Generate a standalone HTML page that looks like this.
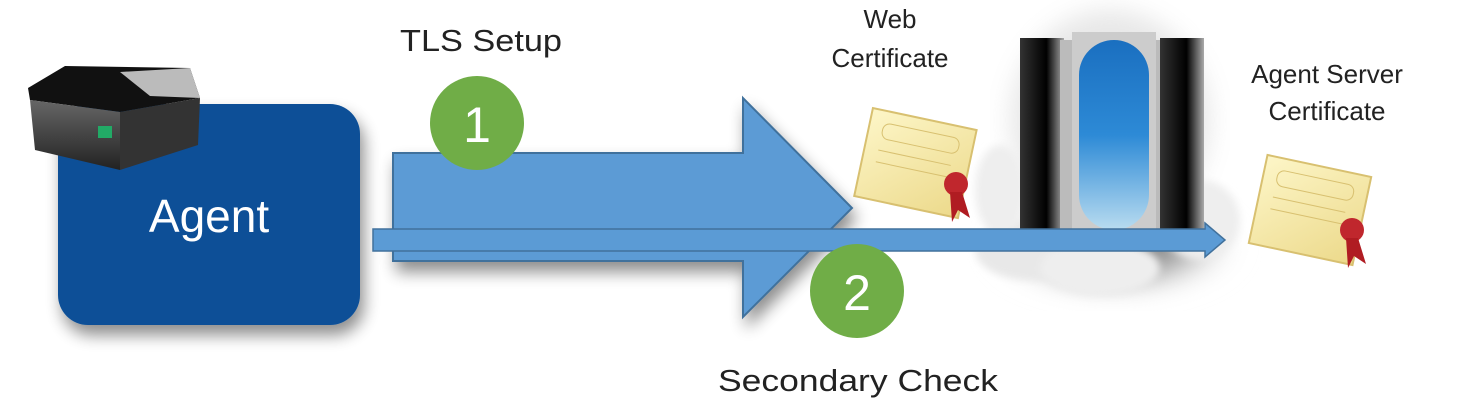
<!DOCTYPE html>
<html><head><meta charset="utf-8"><style>
html,body{margin:0;padding:0;background:#fff;}
svg{display:block;}
text{font-family:"Liberation Sans",sans-serif;}
</style></head><body>
<svg width="1467" height="414" viewBox="0 0 1467 414" xmlns="http://www.w3.org/2000/svg">
<defs>
<filter id="sh" x="-20%" y="-20%" width="150%" height="150%"><feGaussianBlur in="SourceAlpha" stdDeviation="8"/><feOffset dx="4" dy="10"/><feComponentTransfer><feFuncA type="linear" slope="0.45"/></feComponentTransfer><feMerge><feMergeNode/><feMergeNode in="SourceGraphic"/></feMerge></filter>
<filter id="bl"><feGaussianBlur stdDeviation="12"/></filter>
<filter id="bl2"><feGaussianBlur stdDeviation="4"/></filter>
<radialGradient id="cloud" cx="50%" cy="50%" r="50%"><stop offset="0" stop-color="#555"/><stop offset="0.55" stop-color="#aaa"/><stop offset="1" stop-color="#fff" stop-opacity="0"/></radialGradient>
<linearGradient id="globe" x1="0" y1="0" x2="0" y2="1"><stop offset="0" stop-color="#1a6fc0"/><stop offset="0.5" stop-color="#2d8ad6"/><stop offset="1" stop-color="#b9dcf0"/></linearGradient>
<linearGradient id="tower" x1="0" y1="0" x2="1" y2="0"><stop offset="0" stop-color="#333"/><stop offset="0.6" stop-color="#000"/><stop offset="1" stop-color="#aaa"/></linearGradient>
<linearGradient id="cert" x1="0" y1="0" x2="1" y2="1"><stop offset="0" stop-color="#fdf6c8"/><stop offset="1" stop-color="#ecd98a"/></linearGradient>
<linearGradient id="dev" x1="0" y1="0" x2="0" y2="1"><stop offset="0" stop-color="#666"/><stop offset="1" stop-color="#222"/></linearGradient>
</defs>

<!-- Agent box -->
<rect x="58" y="104" width="302" height="221" rx="30" fill="#0b5097" filter="url(#sh)"/>
<text x="209" y="232" font-size="46" fill="#fff" text-anchor="middle">Agent</text>
<!-- device -->
<g>
<polygon points="28,88 65,66 190,68 200,98 120,112 30,100" fill="#111"/>
<polygon points="120,72 190,68 200,98 150,96" fill="#bbb"/>
<polygon points="30,100 120,112 120,170 35,150" fill="url(#dev)"/>
<polygon points="120,112 200,98 198,145 120,170" fill="#333"/>
<rect x="98" y="126" width="14" height="12" fill="#2a6"/>
</g>

<!-- server cloud -->
<ellipse cx="1110" cy="120" rx="100" ry="110" fill="#ccc" opacity="0.45" filter="url(#bl)"/>
<ellipse cx="1115" cy="245" rx="130" ry="55" fill="url(#cloud)" filter="url(#bl)"/>
<ellipse cx="1030" cy="250" rx="55" ry="30" fill="#e8e8e8" filter="url(#bl2)"/>
<ellipse cx="1100" cy="268" rx="60" ry="28" fill="#eee" filter="url(#bl2)"/>
<ellipse cx="1200" cy="220" rx="40" ry="40" fill="#eee" filter="url(#bl2)"/>
<ellipse cx="1000" cy="190" rx="25" ry="45" fill="#eee" filter="url(#bl2)"/>
<rect x="1020" y="38" width="44" height="200" fill="url(#tower)"/>
<rect x="1060" y="40" width="12" height="196" fill="#bbb"/>
<rect x="1156" y="40" width="12" height="196" fill="#bbb"/>
<rect x="1160" y="38" width="44" height="200" fill="url(#tower)"/>
<rect x="1072" y="32" width="84" height="206" fill="#ccc"/>
<rect x="1079" y="40" width="70" height="190" rx="35" fill="url(#globe)"/>

<!-- certificates -->
<g transform="rotate(12 915 165)">
<rect x="862" y="118" width="106" height="90" fill="url(#cert)" stroke="#d8c070" stroke-width="2"/>
<rect x="876" y="130" width="78" height="16" rx="7" fill="none" stroke="#d8c070"/>
<line x1="876" y1="158" x2="950" y2="158" stroke="#d8c070"/><line x1="876" y1="170" x2="950" y2="170" stroke="#d8c070"/>
</g>
<circle cx="956" cy="184" r="12" fill="#c0272d"/><polygon points="950,192 962,192 970,218 958,210 952,222" fill="#b01c22"/>
<g transform="rotate(12 1310 210)">
<rect x="1257" y="165" width="106" height="90" fill="url(#cert)" stroke="#d8c070" stroke-width="2"/>
<rect x="1271" y="177" width="78" height="16" rx="7" fill="none" stroke="#d8c070"/>
<line x1="1271" y1="205" x2="1345" y2="205" stroke="#d8c070"/><line x1="1271" y1="217" x2="1345" y2="217" stroke="#d8c070"/>
</g>
<circle cx="1352" cy="230" r="12" fill="#c0272d"/><polygon points="1346,238 1358,238 1366,264 1354,256 1348,268" fill="#b01c22"/>

<!-- big arrow -->
<polygon points="393,153 743,153 743,98 852,208 743,317 743,261 393,261" fill="#5b9bd5" stroke="#41719c" stroke-width="2" filter="url(#sh)"/>
<!-- thin arrow -->
<polygon points="373,229 1205,229 1205,223 1225,240 1205,257 1205,251 373,251" fill="#5b9bd5" stroke="#41719c" stroke-width="1.5"/>

<!-- circles -->
<circle cx="477" cy="123" r="47" fill="#70ad47"/>
<text x="477" y="142" font-size="50" fill="#fff" text-anchor="middle">1</text>
<circle cx="857" cy="291" r="47" fill="#70ad47"/>
<text x="857" y="310" font-size="50" fill="#fff" text-anchor="middle">2</text>

<!-- labels -->
<text x="400" y="51" font-size="31" fill="#222" textLength="162" lengthAdjust="spacingAndGlyphs">TLS Setup</text>
<text x="718" y="391" font-size="31" fill="#222" textLength="280" lengthAdjust="spacingAndGlyphs">Secondary Check</text>
<text x="890" y="28" font-size="26" fill="#222" text-anchor="middle">Web</text>
<text x="890" y="67" font-size="26" fill="#222" text-anchor="middle">Certificate</text>
<text x="1327" y="83" font-size="26" fill="#222" text-anchor="middle">Agent Server</text>
<text x="1327" y="120" font-size="26" fill="#222" text-anchor="middle">Certificate</text>
</svg>
</body></html>
